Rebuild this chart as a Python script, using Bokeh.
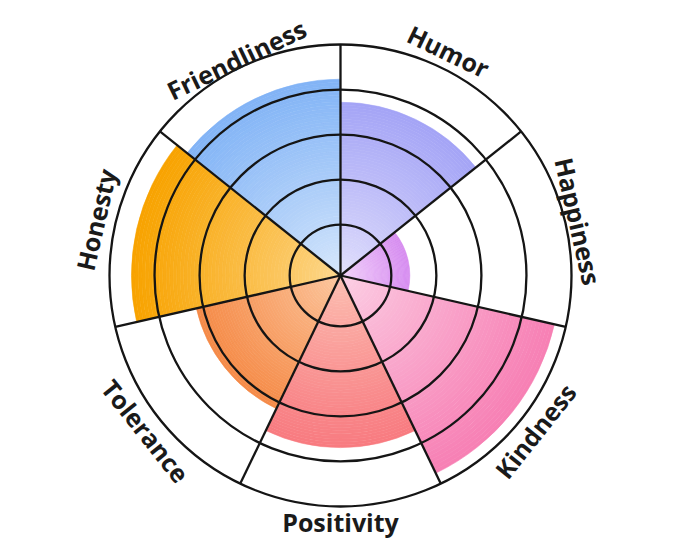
import numpy as np
from bokeh.plotting import figure
from bokeh.core.properties import value
from bokeh.embed import file_html
from bokeh.resources import INLINE

# ---- data ----
categories = ["Humor", "Happiness", "Kindness", "Positivity", "Tolerance", "Honesty", "Friendliness"]
scores = [75, 30, 95, 74.5, 64, 90.5, 85]
ring_levels = [22, 41.5, 61, 80.5, 100]
max_level = 100

# ---- styles ----
outer_colors = ["#a4a4f6", "#d68cf0", "#f77fb4", "#f87a80", "#f58b48", "#f8a300", "#82b4f6"]
inner_colors = ["#e4e2fc", "#f4d8fb", "#fcd2e6", "#fcc2b4", "#fcc9a2", "#fdd992", "#dae9fc"]
label_radius_px = [249, 244, 249, 246, 249, 251, 240]

W, H = 664, 541
PX = 2.31                     # pixels per data unit
CX, CY = 340, 275             # centre, pixels from left / top of the figure
x_range = (-CX / PX, (W - CX) / PX)
y_range = (-(H - CY) / PX, CY / PX)

p = figure(width=W, height=H, x_range=x_range, y_range=y_range,
           output_backend="svg", toolbar_location=None, min_border=0,
           background_fill_color="white", border_fill_color="white")
p.axis.visible = False
p.grid.visible = False
p.outline_line_color = None


def hex2rgb(h):
    h = h.lstrip("#")
    return np.array([int(h[i:i + 2], 16) for i in (0, 2, 4)], dtype=float)


def rgb2hex(c):
    return "#%02x%02x%02x" % tuple(int(round(v)) for v in c)


n = len(categories)
step = 2 * np.pi / n
NB = 60

xs, ys, r_in, r_out, a0, a1, cols = [], [], [], [], [], [], []
for k, (cat, val) in enumerate(zip(categories, scores)):
    end = np.pi / 2 - k * step
    start = end - step
    ci, co = hex2rgb(inner_colors[k]), hex2rgb(outer_colors[k])
    edges = np.linspace(0, val, NB + 1)
    for b in range(NB):
        t = ((b + 0.5) / NB) ** 0.85
        xs.append(0); ys.append(0)
        r_in.append(edges[b]); r_out.append(edges[b + 1])
        a0.append(start); a1.append(end)
        cols.append(rgb2hex(ci + (co - ci) * t))

p.annular_wedge(x=xs, y=ys, inner_radius=r_in, outer_radius=r_out,
                start_angle=a0, end_angle=a1, direction="anticlock",
                fill_color=cols, line_color=cols, line_width=0.6)

# rings
p.circle(x=[0] * len(ring_levels), y=[0] * len(ring_levels), radius=ring_levels,
         fill_color=None, line_color="#151515", line_width=2.3)

# spokes
angles = [np.pi / 2 - k * step for k in range(n)]
p.segment(x0=[0] * n, y0=[0] * n,
          x1=[max_level * np.cos(a) for a in angles],
          y1=[max_level * np.sin(a) for a in angles],
          line_color="#151515", line_width=2.3)

# labels
lx, ly, lang = [], [], []
for k in range(n):
    mid = np.pi / 2 - (k + 0.5) * step
    r = label_radius_px[k] / PX
    lx.append(r * np.cos(mid)); ly.append(r * np.sin(mid))
    if np.sin(mid) > -0.05:
        lang.append(mid - np.pi / 2)
    else:
        lang.append(mid + np.pi / 2)

p.text(x=lx, y=ly, text=categories, angle=lang,
       text_font=value("Open Sans"), text_font_style="bold",
       text_font_size="25px", text_color="#1a1a1a",
       text_align="center", text_baseline="middle")

open("out.html", "w").write(file_html(p, INLINE))
